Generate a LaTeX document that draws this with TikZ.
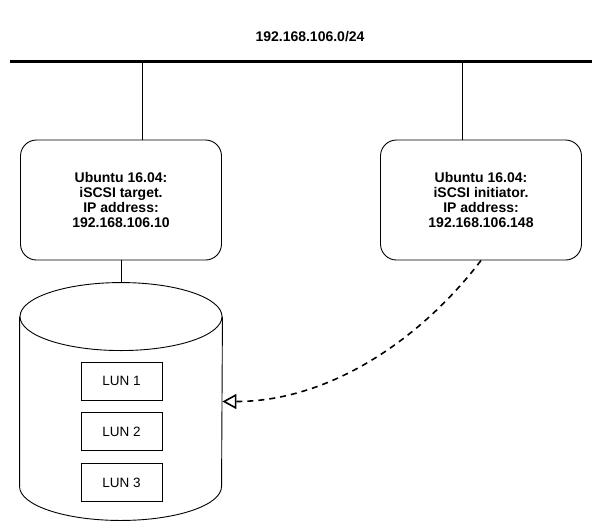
\documentclass[tikz,border=0pt]{standalone}
\usepackage{fontspec}
\setmainfont{Liberation Sans}
\usetikzlibrary{positioning,arrows.meta}

\begin{document}
\begin{tikzpicture}[x=1pt,y=-1pt,line width=0.9pt]

\tikzset{
	host/.style={draw, rounded corners=16pt, minimum width=201pt, minimum height=120pt,
		align=center, font=\fontsize{14}{14.8}\selectfont\bfseries},
	lun/.style={draw, minimum width=81pt, minimum height=38pt, font=\fontsize{13.5}{15}\selectfont},
}

\useasboundingbox (0,0) rectangle (604,531);

\node[font=\fontsize{14}{16}\selectfont\bfseries] (net) at (310,37) {192.168.106.0/24};

\coordinate (busL) at (10,61);
\coordinate (busR) at (592,61);
\draw[line width=3pt] (busL) -- (busR);

\node[host] (target) at (121,200) {Ubuntu 16.04:\\iSCSI target.\\IP address:\\192.168.106.10};
\node[host] (initiator) at (481,200) {Ubuntu 16.04:\\iSCSI initiator.\\IP address:\\192.168.106.148};

\coordinate (tapT) at (142,61);
\coordinate (tapI) at (462,61);
\draw (tapT) -- (tapT |- target.north);
\draw (tapI) -- (tapI |- initiator.north);

% storage cylinder
\node[minimum width=202pt, minimum height=237pt] (storage) at (121,401.5) {};
\draw ([yshift=-34pt]storage.north) ellipse [x radius=101pt, y radius=34pt];
\draw ([yshift=-34pt]storage.north west) -- ([yshift=34pt]storage.south west)
	arc[start angle=180, end angle=360, x radius=101pt, y radius=34pt]
	-- ([yshift=-34pt]storage.north east);
\draw (target.south) -- (storage.north);

\node[lun] (lun1) at (121.5,381) {LUN 1};
\node[lun, below=12pt of lun1] (lun2) {LUN 2};
\node[lun, below=12pt of lun2] (lun3) {LUN 3};

%\draw [->] (initiator.south) to[out=240,in=0] (storage.east);
\draw [line width=1.6pt, dash pattern=on 6pt off 5pt, -{Triangle[open,length=14pt,width=15pt]}]
	(initiator.south) .. controls +(-61,80) and +(106,0) .. (storage.east);

\end{tikzpicture}
\end{document}
